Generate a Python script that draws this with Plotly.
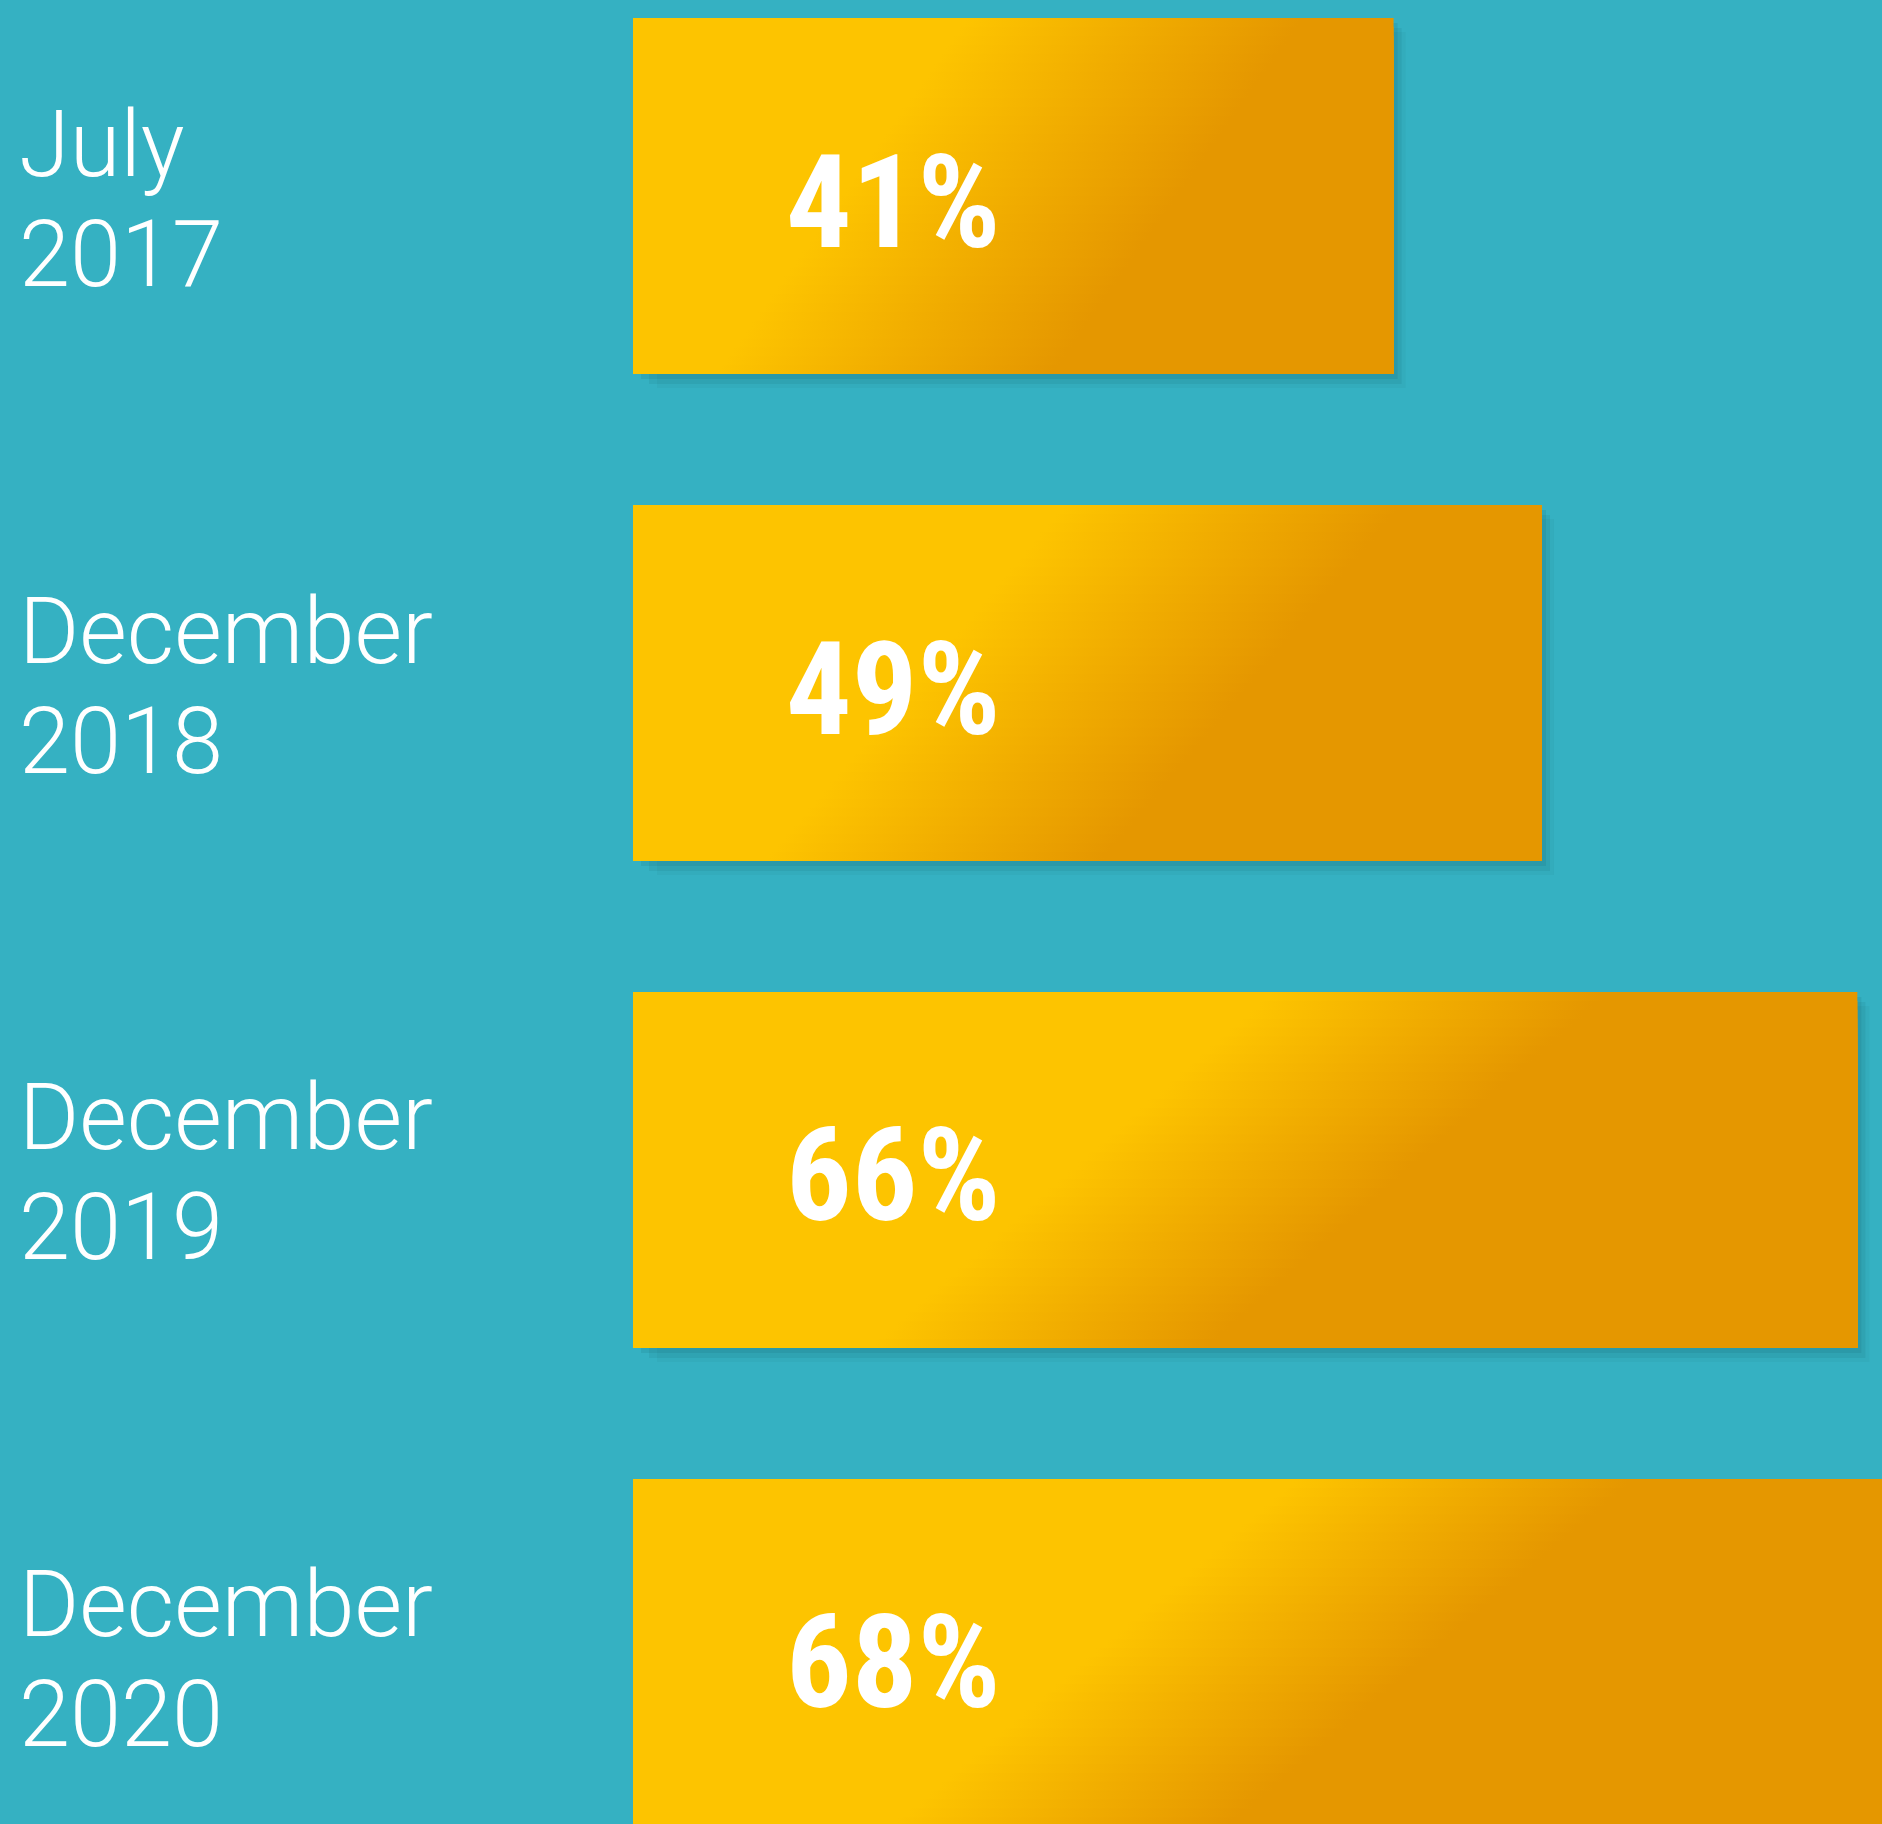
import plotly.graph_objects as go

# ---- data ----
months = ["July", "December", "December", "December"]
years = ["2017", "2018", "2019", "2020"]
values = [41, 49, 66, 68]
value_labels = ["41%", "49%", "66%", "68%"]

# ---- style ----
BG = "#35B1C2"
YELLOW = "#FDC400"
ORANGE = "#E59700"
MID = "#F1AD00"
BAR_HALF = 0.3655          # half bar thickness in category units
PX_PER_X = 18.55           # pixels per percent (for shadow offsets)
PX_PER_Y = 487.0           # pixels per category step
N_STRIPS = 40              # horizontal slices used to tilt the gradient
GRAD_TOP = 0.66            # gradient centre (fraction of bar length) at top edge
GRAD_BOTTOM = 0.33         # ... at bottom edge
GRAD_HALF = 9.0            # half width of the colour transition, in % units


def clamp(a):
    return max(0.0, min(1.0, a))


fig = go.Figure()

for i, v in enumerate(values):
    top = i - BAR_HALF
    bot = i + BAR_HALF
    # soft drop shadow
    for dx, dy, a in [(4, 5, 0.10), (8, 10, 0.08), (12, 14, 0.05)]:
        ox = dx / PX_PER_X
        oy = dy / PX_PER_Y
        fig.add_trace(go.Scatter(
            x=[ox * 2, v + ox, v + ox, ox * 2, ox * 2],
            y=[top + oy, top + oy, bot + oy, bot + oy, top + oy],
            mode="lines", line=dict(width=0), fill="toself",
            fillcolor=f"rgba(10,70,80,{a})", hoverinfo="skip", showlegend=False,
        ))
    # bar: nested slices, each with its own horizontal gradient -> diagonal look
    hw = GRAD_HALF / v
    for k in range(N_STRIPS):
        t = (k + 0.5) / N_STRIPS
        y0 = top + (bot - top) * k / N_STRIPS
        c = GRAD_TOP + (GRAD_BOTTOM - GRAD_TOP) * t
        s0, s1 = clamp(c - hw), clamp(c + hw)
        cs = [[0, YELLOW]]
        if s0 > 0:
            cs.append([s0, YELLOW])
        cs.append([clamp(c), MID])
        if s1 < 1:
            cs.append([s1, ORANGE])
        cs.append([1, ORANGE])
        fig.add_trace(go.Scatter(
            x=[0, v, v, 0, 0],
            y=[y0, y0, bot, bot, y0],
            mode="lines", line=dict(width=0), fill="toself",
            fillgradient=dict(type="horizontal", colorscale=cs),
            hoverinfo="skip", showlegend=False, name=f"{months[i]} {years[i]}",
        ))
    # value label
    fig.add_annotation(
        x=0, y=i, xref="x", yref="y", text=value_labels[i],
        xanchor="left", yanchor="middle", xshift=151, yshift=-6,
        showarrow=False,
        font=dict(family="Roboto Condensed, Liberation Sans Narrow, DejaVu Sans Condensed, sans-serif",
                  size=130, color="white", weight="bold"),
    )
    # category label (two lines)
    fig.add_annotation(
        x=0, y=i, xref="paper", yref="y", text=months[i],
        xanchor="left", yanchor="middle", xshift=-616, yshift=52,
        showarrow=False, align="left",
        font=dict(family="Roboto", size=92, color="white", weight=300),
    )
    fig.add_annotation(
        x=0, y=i, xref="paper", yref="y", text=years[i],
        xanchor="left", yanchor="middle", xshift=-616, yshift=-58,
        showarrow=False, align="left",
        font=dict(family="Roboto", size=92, color="white", weight=300),
    )

fig.update_layout(
    width=1882, height=1824,
    margin=dict(l=633, r=0, t=0, b=0),
    paper_bgcolor=BG, plot_bgcolor=BG,
    showlegend=False,
    xaxis=dict(range=[0, 67.33], visible=False, fixedrange=True),
    yaxis=dict(range=[3.343, -0.4025], visible=False, fixedrange=True),
)

fig.write_html(
    "out.html",
    config={"displayModeBar": False},
    post_script="document.body.style.margin='0';document.body.style.background='" + BG + "';",
)
